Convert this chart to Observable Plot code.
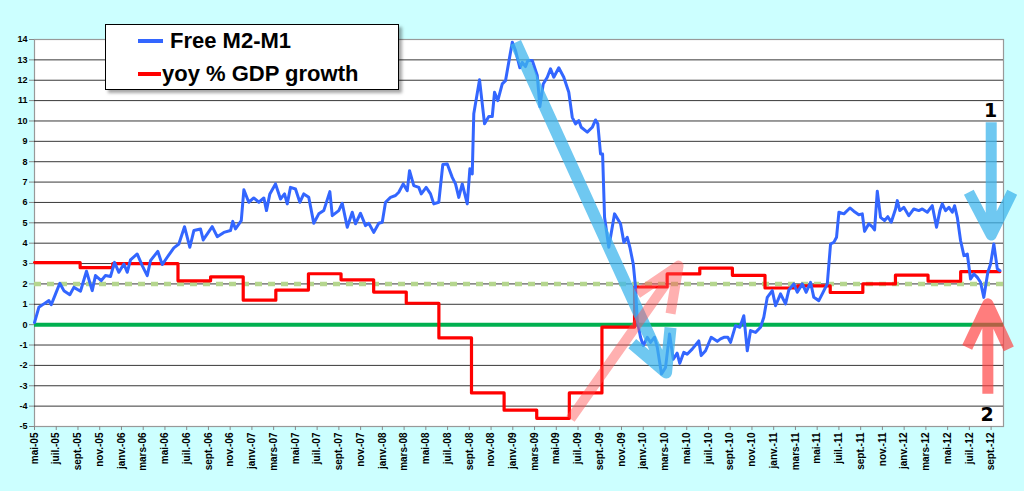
<!DOCTYPE html>
<html><head><meta charset="utf-8">
<script src="https://cdn.jsdelivr.net/npm/d3@7"></script>
<script src="https://cdn.jsdelivr.net/npm/@observablehq/plot@0.6"></script>
<style>
html,body{margin:0;padding:0;background:#CCFFFF;}
#wrap{position:relative;width:1024px;height:491px;overflow:hidden;background:#CCFFFF;}
#legend{position:absolute;left:105px;top:24px;width:292px;height:64px;background:#fff;border:1px solid #000;box-shadow:3px 3px 3px rgba(0,0,0,0.35);font-family:"Liberation Sans",Arial,sans-serif;font-weight:bold;font-size:22px;color:#000;}
.li{position:absolute;white-space:nowrap;line-height:22px;}
.sw{position:absolute;height:4px;}
</style>
</head><body>
<div id="wrap">
<div id="chart"></div>
<div id="legend">
  <div class="sw" style="left:32px;top:14px;width:25px;background:#3366FF"></div>
  <div class="li" style="left:64px;top:5px">Free M2-M1</div>
  <div class="sw" style="left:32px;top:47px;width:23px;background:#FF0000"></div>
  <div class="li" style="left:56px;top:38px">yoy % GDP growth</div>
</div>
</div>
<script>
// x unit: months since May 2005 (0 = mai-05)
const tickLabels = ["mai-05","juil.-05","sept.-05","nov.-05","janv.-06","mars-06","mai-06","juil.-06","sept.-06","nov.-06",
 "janv.-07","mars-07","mai-07","juil.-07","sept.-07","nov.-07","janv.-08","mars-08","mai-08","juil.-08","sept.-08","nov.-08",
 "janv.-09","mars-09","mai-09","juil.-09","sept.-09","nov.-09","janv.-10","mars-10","mai-10","juil.-10","sept.-10","nov.-10",
 "janv.-11","mars-11","mai-11","juil.-11","sept.-11","nov.-11","janv.-12","mars-12","mai-12","juil.-12","sept.-12"];
const tickMonths = [0,2,4,6,8,10,12,14,16,18,20,22,24,26,28,30,32,34,36,38,40,42,44,46,48,50,52,54,56,58,60,62,64,66,68,70,72,74,76,78,80,82,84,86,88];
const yTicks = [-5,-4,-3,-2,-1,0,1,2,3,4,5,6,7,8,9,10,11,12,13,14];

const gdpMonth = [0,4.2,7.2,10.2,13.2,16.2,19.2,22.2,25.2,28.2,31.2,34.2,37.2,40.2,43.2,46.2,49.2,52.2,55.2,58.2,61.2,64.2,67.2,70.2,73.2,76.2,79.2,82.2,85.2,88.8];
const gdpValue = [3.05,2.8,3.0,3.0,2.15,2.35,1.2,1.7,2.5,2.2,1.6,1.05,-0.65,-3.35,-4.2,-4.6,-3.35,-0.12,1.85,2.49,2.78,2.42,1.8,1.9,1.58,2.0,2.43,2.13,2.6,2.6];

const m2Month = [0,0.4,0.86,1.32,1.54,1.93,2.33,2.7,3.25,3.62,4.23,4.78,5.31,5.61,6.14,6.53,6.99,7.36,7.76,8.22,8.53,8.83,9.45,9.91,10.37,10.67,11.34,11.75,12.21,12.82,13.28,13.8,14.29,14.66,15.27,15.52,16.35,16.81,17.42,18.03,18.24,18.49,19.02,19.26,19.71,20.17,20.64,21.1,21.34,21.65,22.17,22.63,23.0,23.25,23.55,24.01,24.41,24.77,25.23,25.69,26.15,26.61,27.17,27.39,27.99,28.31,28.77,29.23,29.53,29.99,30.45,30.75,31.21,31.67,31.99,32.29,32.75,33.21,33.51,33.92,34.29,34.5,34.89,35.35,35.58,36.03,36.43,36.73,37.19,37.56,37.97,38.43,38.73,39.03,39.35,39.81,40.05,40.27,40.41,40.94,41.4,41.79,42.11,42.32,42.62,43.03,43.33,43.95,44.25,44.65,44.87,45.17,45.38,45.79,46.25,46.49,46.8,47.17,47.47,47.77,48.23,48.69,49.15,49.47,49.77,50.07,50.29,50.85,51.31,51.61,51.82,52.07,52.26,52.44,52.83,53.36,53.91,54.22,54.53,54.77,55.08,55.29,55.45,55.75,56.0,56.37,56.67,57.04,57.29,57.68,58.05,58.42,58.76,59.12,59.36,59.73,60.04,60.5,61.11,61.33,61.73,62.25,62.81,63.11,63.42,63.78,64.03,64.49,64.89,65.25,65.57,65.87,66.33,66.79,67.09,67.41,67.87,68.17,68.63,69.09,69.39,69.85,70.17,70.63,70.99,71.39,71.69,72.15,72.47,72.93,73.23,73.53,73.78,74.0,74.46,75.01,75.37,75.83,76.15,76.36,76.75,77.06,77.28,77.53,77.83,78.2,78.5,78.81,79.21,79.37,79.6,79.97,80.43,80.89,81.35,81.67,82.13,82.59,82.98,83.29,83.51,83.81,84.12,84.43,84.64,84.89,85.19,85.5,85.81,86.11,86.42,86.73,87.03,87.33,87.7,87.95,88.25,88.57,88.81];
const m2Value = [0.1,0.85,1.02,1.18,0.98,1.5,2.03,1.67,1.47,1.83,1.64,2.62,1.67,2.41,2.16,2.41,2.36,3.06,2.57,2.98,2.57,3.18,3.47,2.9,2.41,3.14,3.6,2.95,3.31,3.77,3.96,4.81,3.8,4.62,4.7,4.16,4.81,4.32,4.53,4.62,5.07,4.7,5.11,6.62,6.01,6.22,6.01,6.22,5.6,6.42,6.91,6.17,6.42,5.93,6.74,6.66,6.01,6.42,6.25,4.98,5.44,5.6,6.53,5.35,5.6,5.96,4.78,5.52,4.95,5.47,4.86,4.98,4.53,4.98,5.03,6.01,6.25,6.34,6.5,6.91,6.58,7.56,6.83,6.74,6.42,6.74,6.42,5.93,6.01,7.86,7.89,7.23,6.91,6.25,6.91,5.93,7.65,7.4,10.35,12.02,9.86,10.22,10.22,11.41,11.0,11.82,11.98,13.87,13.46,12.61,12.88,12.67,12.97,12.97,12.23,10.71,11.82,12.15,12.56,12.15,12.61,12.15,11.41,10.18,9.86,10.02,9.69,9.45,9.69,10.05,9.86,8.38,8.38,5.27,3.8,5.44,4.95,4.04,4.29,3.8,2.98,1.83,0.2,-0.62,-1.03,-0.62,-0.87,-0.62,-1.11,-2.42,-2.1,-0.46,-1.7,-1.4,-1.9,-1.36,-1.45,-1.2,-0.8,-1.52,-1.28,-0.62,-0.82,-0.7,-0.62,-0.62,-0.87,-0.05,-0.13,0.44,-1.28,-0.29,-0.38,-0.13,0.36,1.34,1.67,0.93,1.51,1.02,1.7,2.0,1.59,2.0,1.59,2.08,1.34,1.18,1.51,2.0,3.96,4.04,4.29,5.52,5.44,5.73,5.57,5.4,5.44,4.58,4.95,4.81,4.65,6.55,5.27,5.11,5.3,5.03,5.68,6.09,5.6,5.76,5.35,5.68,5.6,5.68,5.52,5.84,4.78,5.6,5.93,5.6,5.76,5.52,5.84,5.27,4.13,3.39,3.47,2.24,2.49,2.32,2.08,1.34,2.57,2.98,3.96,2.74,2.65];

// annotation arrows (month, value) polylines; null = break
const arrowFall = [[44.25,13.85],[58.1,-2.35],null,[54.99,-0.93],[58.1,-2.35],[58.51,-0.15]];
const arrowRise = [[49.31,-4.62],[59.25,2.9],null,[55.45,1.52],[59.25,2.9],[58.51,0.54]];
const arrowOne = [[88.01,9.94],[88.01,4.4],null,[85.95,6.5],[88.01,4.4],[89.94,6.5]];
const arrowTwo = [[87.7,-3.39],[87.7,1.02],null,[85.8,-1.11],[87.7,1.02],[89.63,-1.19]];
const arrowLabels = [{m:87.95, v:10.5, t:"1"},{m:87.64, v:-4.45, t:"2"}];

const toRows = (ms, vs) => ms.map((m,i) => ({m, v: vs[i]}));
const gdp = toRows(gdpMonth, gdpValue);
const m2 = toRows(m2Month, m2Value);
const pts = a => a.map(p => p ? {m:p[0], v:p[1]} : {m:NaN, v:NaN});

const arrowMark = (a, color, op, w) => Plot.line(pts(a), {x:"m", y:"v", stroke:color, strokeOpacity:op, strokeWidth:w, strokeLinejoin:"round", strokeLinecap:"butt"});

const chart = Plot.plot({
  width:1024, height:491,
  marginLeft:34, marginRight:21, marginTop:39, marginBottom:65,
  style:{background:"transparent", fontFamily:"'Liberation Sans', Arial, sans-serif", color:"#000", overflow:"visible"},
  x:{type:"linear", domain:[0,89.14], label:null},
  y:{domain:[-5,14], label:null},
  marks:[
    Plot.frame({fill:"white", stroke:"#999", strokeWidth:1.2}),
    Plot.gridY(yTicks.slice(1,-1), {stroke:"#222", strokeOpacity:0.9, strokeWidth:1}),
    Plot.ruleY([2], {stroke:"#B5D68E", strokeWidth:4.5, strokeDasharray:"7,6"}),
    Plot.ruleY([0], {stroke:"#00B050", strokeWidth:4}),
    Plot.line(gdp, {x:"m", y:"v", curve:"step-after", stroke:"#FF0000", strokeWidth:3.2}),
    Plot.line(m2, {x:"m", y:"v", stroke:"#3366FF", strokeWidth:3}),
    arrowMark(arrowFall, "#3FB6EC", 0.75, 12),
    arrowMark(arrowRise, "#FF5050", 0.45, 10),
    arrowMark(arrowOne, "#3FB6EC", 0.75, 11),
    arrowMark(arrowTwo, "#FF4040", 0.68, 11),
    Plot.text(arrowLabels, {x:"m", y:"v", text:"t", fontSize:19, fontWeight:"bold", fontFamily:"'DejaVu Sans', sans-serif", fill:"#000"}),
    Plot.axisY(yTicks, {tickSize:5, tickPadding:2, fontSize:9, fontWeight:"bold", tickFormat:d => String(d), stroke:"#888", label:null}),
    Plot.axisX(tickMonths, {tickSize:4, tickPadding:2, fontSize:10, fontWeight:"bold", tickRotate:-90, tickFormat:d => tickLabels[d/2], stroke:"#888", label:null})
  ]
});
document.getElementById("chart").appendChild(chart);
</script>
</body></html>
